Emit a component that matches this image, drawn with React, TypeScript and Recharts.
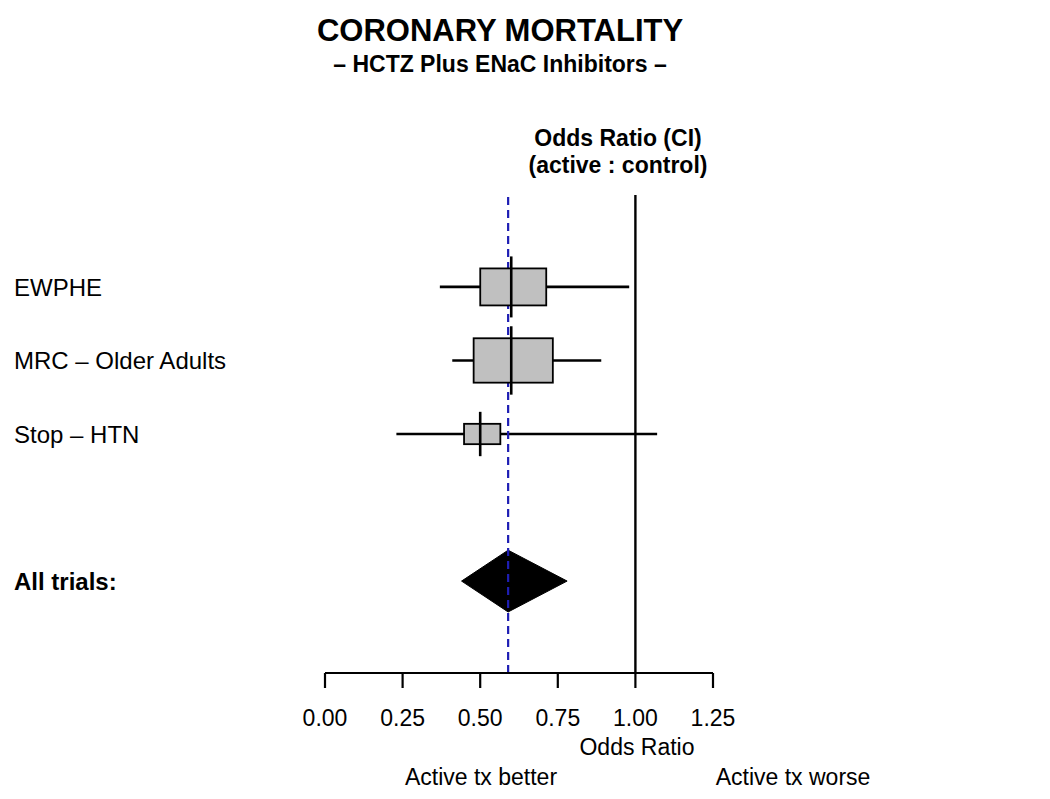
import React from 'react';
import { ComposedChart, XAxis, YAxis, Scatter, ErrorBar, Area, ReferenceLine } from 'recharts';

const FONT = '"Liberation Sans", Arial, Helvetica, sans-serif';

// trial rows
const trials = ['EWPHE', 'MRC – Older Adults', 'Stop – HTN'];
const trialRows = [1, 2, 3];
const oddsRatio = [0.6, 0.6, 0.5];
const ciLow = [0.37, 0.41, 0.23];
const ciHigh = [0.98, 0.89, 1.07];
const boxWeight = [1.0, 1.2, 0.55];

// pooled estimate
const pooledLabel = 'All trials:';
const pooledRow = 5;
const pooledOR = 0.59;
const pooledLow = 0.44;
const pooledHigh = 0.78;

const xTicks = [0, 0.25, 0.5, 0.75, 1, 1.25];
const nullValue = 1;

const DIAMOND_HALF = 0.42;

const fmt = (v: number) => v.toFixed(2);

const rows = trials.map((name, i) => ({
  name,
  row: trialRows[i],
  x: oddsRatio[i],
  err: [oddsRatio[i] - ciLow[i], ciHigh[i] - oddsRatio[i]],
  w: boxWeight[i],
  text: `${fmt(oddsRatio[i])} (${fmt(ciLow[i])}, ${fmt(ciHigh[i])})`,
}));

const diamond = [
  { x: pooledLow, band: [pooledRow, pooledRow] },
  { x: pooledOR, band: [pooledRow - DIAMOND_HALF, pooledRow + DIAMOND_HALF] },
  { x: pooledHigh, band: [pooledRow, pooledRow] },
];

const leftLabel = (row: number) => {
  if (row === pooledRow) return pooledLabel;
  const r = rows.find((d) => d.row === row);
  return r ? r.name : '';
};
const rightLabel = (row: number) => {
  if (row === pooledRow) return `${fmt(pooledOR)} (${fmt(pooledLow)}, ${fmt(pooledHigh)})`;
  const r = rows.find((d) => d.row === row);
  return r ? r.text : '';
};

const LeftTick = (props: any) => {
  const { y, payload } = props;
  const bold = payload.value === pooledRow;
  return (
    <text x={14} y={y} dy="0.36em" textAnchor="start" fontSize={24} fontFamily={FONT}
      fontWeight={bold ? 'bold' : 'normal'} fill="#000">
      {leftLabel(payload.value)}
    </text>
  );
};

const RightTick = (props: any) => {
  const { y, payload } = props;
  const bold = payload.value === pooledRow;
  return (
    <text x={1033} y={y} dy="0.36em" textAnchor="end" fontSize={23} fontFamily={FONT}
      fontWeight={bold ? 'bold' : 'normal'} fill="#000">
      {rightLabel(payload.value)}
    </text>
  );
};

const BoxShape = (props: any) => {
  const { cx, cy, payload } = props;
  if (cx == null || cy == null) return null;
  const w = payload.w * 66;
  const h = payload.w * 37;
  return (
    <g>
      <rect x={cx - w / 2 + 2} y={cy - h / 2} width={w} height={h} fill="#c0c0c0" stroke="#000" strokeWidth={1.8} />
      <line x1={cx} x2={cx} y1={cy - h / 2 - 12} y2={cy + h / 2 + 12} stroke="#000" strokeWidth={2.6} />
    </g>
  );
};

const Label = ({ x, y, size, bold, children }: any) => (
  <div style={{
    position: 'absolute', left: x, top: y, transform: 'translate(-50%, -50%)',
    fontFamily: FONT, fontSize: size, fontWeight: bold ? 'bold' : 'normal',
    lineHeight: 1, whiteSpace: 'nowrap', color: '#000',
  }}>{children}</div>
);

export default function App() {
  return (
    <div style={{ position: 'absolute', left: 0, top: 0, width: 1050, height: 799, background: '#fff' }}>
      <ComposedChart width={1050} height={799} margin={{ top: 195, right: 0, bottom: 66, left: 0 }}>
        <XAxis
          dataKey="x"
          type="number"
          domain={[0, 1.25]}
          ticks={xTicks}
          tickFormatter={fmt}
          allowDataOverflow
          height={60}
          tickSize={15}
          tickMargin={22}
          stroke="#000"
          strokeWidth={2.2}
          tick={{ fill: '#000', fontSize: 23, fontFamily: FONT }}
        />
        <YAxis yAxisId="L" type="number" domain={[-0.25, 6.25]} reversed width={325}
          ticks={[...trialRows, pooledRow]} axisLine={false} tickLine={false} tick={<LeftTick />} />
        <YAxis yAxisId="R" orientation="right" type="number" domain={[-0.25, 6.25]} reversed width={337}
          ticks={[...trialRows, pooledRow]} axisLine={false} tickLine={false} tick={<RightTick />} />
        <ReferenceLine yAxisId="L" x={nullValue} stroke="#000" strokeWidth={2.4} />
        <Area yAxisId="L" data={diamond} dataKey="band" type="linear" fill="#000" fillOpacity={1}
          stroke="#000" strokeWidth={1} dot={false} activeDot={false} isAnimationActive={false} />
        <Scatter yAxisId="L" data={rows} dataKey="row" shape={<BoxShape />} isAnimationActive={false}>
          <ErrorBar dataKey="err" direction="x" width={0} stroke="#000" strokeWidth={2.6} />
        </Scatter>
        <ReferenceLine yAxisId="L" x={pooledOR} stroke="#1e1eb4" strokeWidth={2.2} strokeDasharray="8 5" />
      </ComposedChart>

      <Label x={500} y={30} size={31} bold>CORONARY MORTALITY</Label>
      <Label x={500} y={64} size={23} bold>– HCTZ Plus ENaC Inhibitors –</Label>
      <Label x={618} y={138} size={23} bold>Odds Ratio (CI)</Label>
      <Label x={618} y={165} size={23} bold>(active : control)</Label>
      <Label x={637} y={747} size={23}>Odds Ratio</Label>
      <Label x={481} y={777} size={23}>Active tx better</Label>
      <Label x={793} y={777} size={23}>Active tx worse</Label>
    </div>
  );
}
